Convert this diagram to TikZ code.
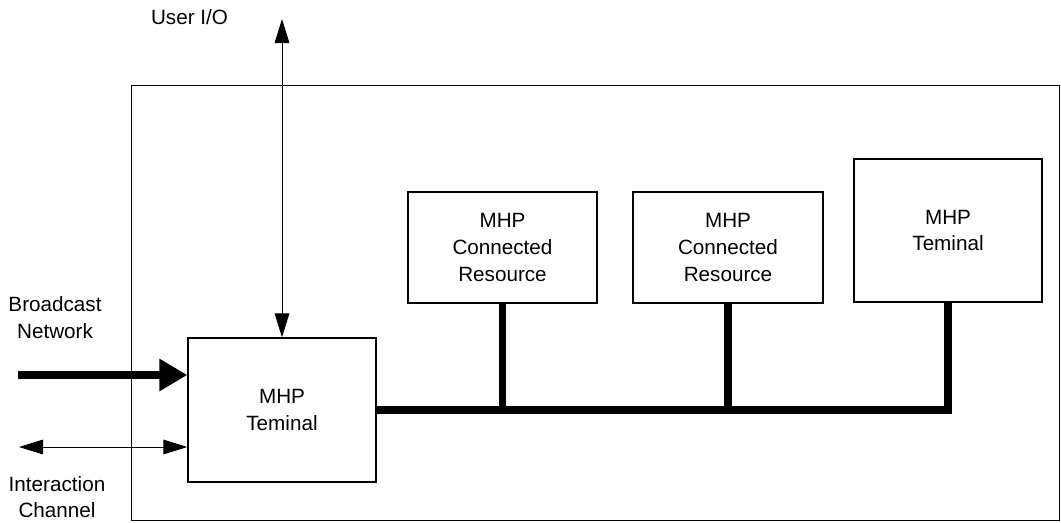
\documentclass[tikz,border=0pt]{standalone}
\usepackage{fontspec}
\setmainfont{Liberation Sans}
\usetikzlibrary{arrows.meta}

\tikzset{every picture/.style={line width=0.75pt}}
\tikzset{
  unitbox/.style={draw, line width=1pt, align=center, inner sep=0.75pt},
  lbl/.style={align=center, inner sep=0.75pt},
  busline/.style={line width=5.5pt, line join=miter},
  thinarr/.style={line width=0.75pt, {Triangle[length=18pt,width=11pt]}-{Triangle[length=18pt,width=11pt]}},
  bcastarr/.style={line width=6pt, -{Triangle[length=21pt,width=23pt]}}
}

\begin{document}
\begin{tikzpicture}[x=0.75pt,y=0.75pt,yscale=-1,xscale=1,
  font=\fontsize{15.5}{20}\selectfont]
\useasboundingbox (0,0) rectangle (1061,522);

%Shape: Rectangle [outer frame]
\draw (131,85) rectangle (1059,520);

%Shape: Boxes
\node [unitbox, minimum width=141pt, minimum height=108pt] (term) at (282,410) {MHP\\Teminal};
\node [unitbox, minimum width=141.75pt, minimum height=83.25pt] (res1) at (502.5,247.5) {MHP\\Connected\\Resource};
\node [unitbox, minimum width=142.5pt, minimum height=83.25pt] (res2) at (728,247.5) {MHP\\Connected\\Resource};
\node [unitbox, minimum width=141pt, minimum height=107.25pt] (term2) at (948,230.5) {MHP\\Teminal};

%Free ends
\coordinate (uio) at (282,19);
\coordinate (bcin) at (18,375);
\coordinate (icin) at (19,447);

%Bus
\draw [busline] (term.east) -- (term2.south |- term.east) -- (term2.south);
\draw [busline] (res1.south) -- (res1.south |- term.east);
\draw [busline] (res2.south) -- (res2.south |- term.east);

%Arrows
\draw [thinarr] (uio) -- (term.north);
\draw [bcastarr] (bcin) -- (bcin -| term.west);
\draw [thinarr] (icin) -- (icin -| term.west);

% Text Node
\node [lbl] (uiolbl) at (189.5,17) {User I/O};
% Text Node
\node [lbl] (bclbl) at (55,317.5) {Broadcast\\Network};
% Text Node
\node [lbl] (iclbl) at (57,497) {Interaction\\Channel};

\end{tikzpicture}
\end{document}
